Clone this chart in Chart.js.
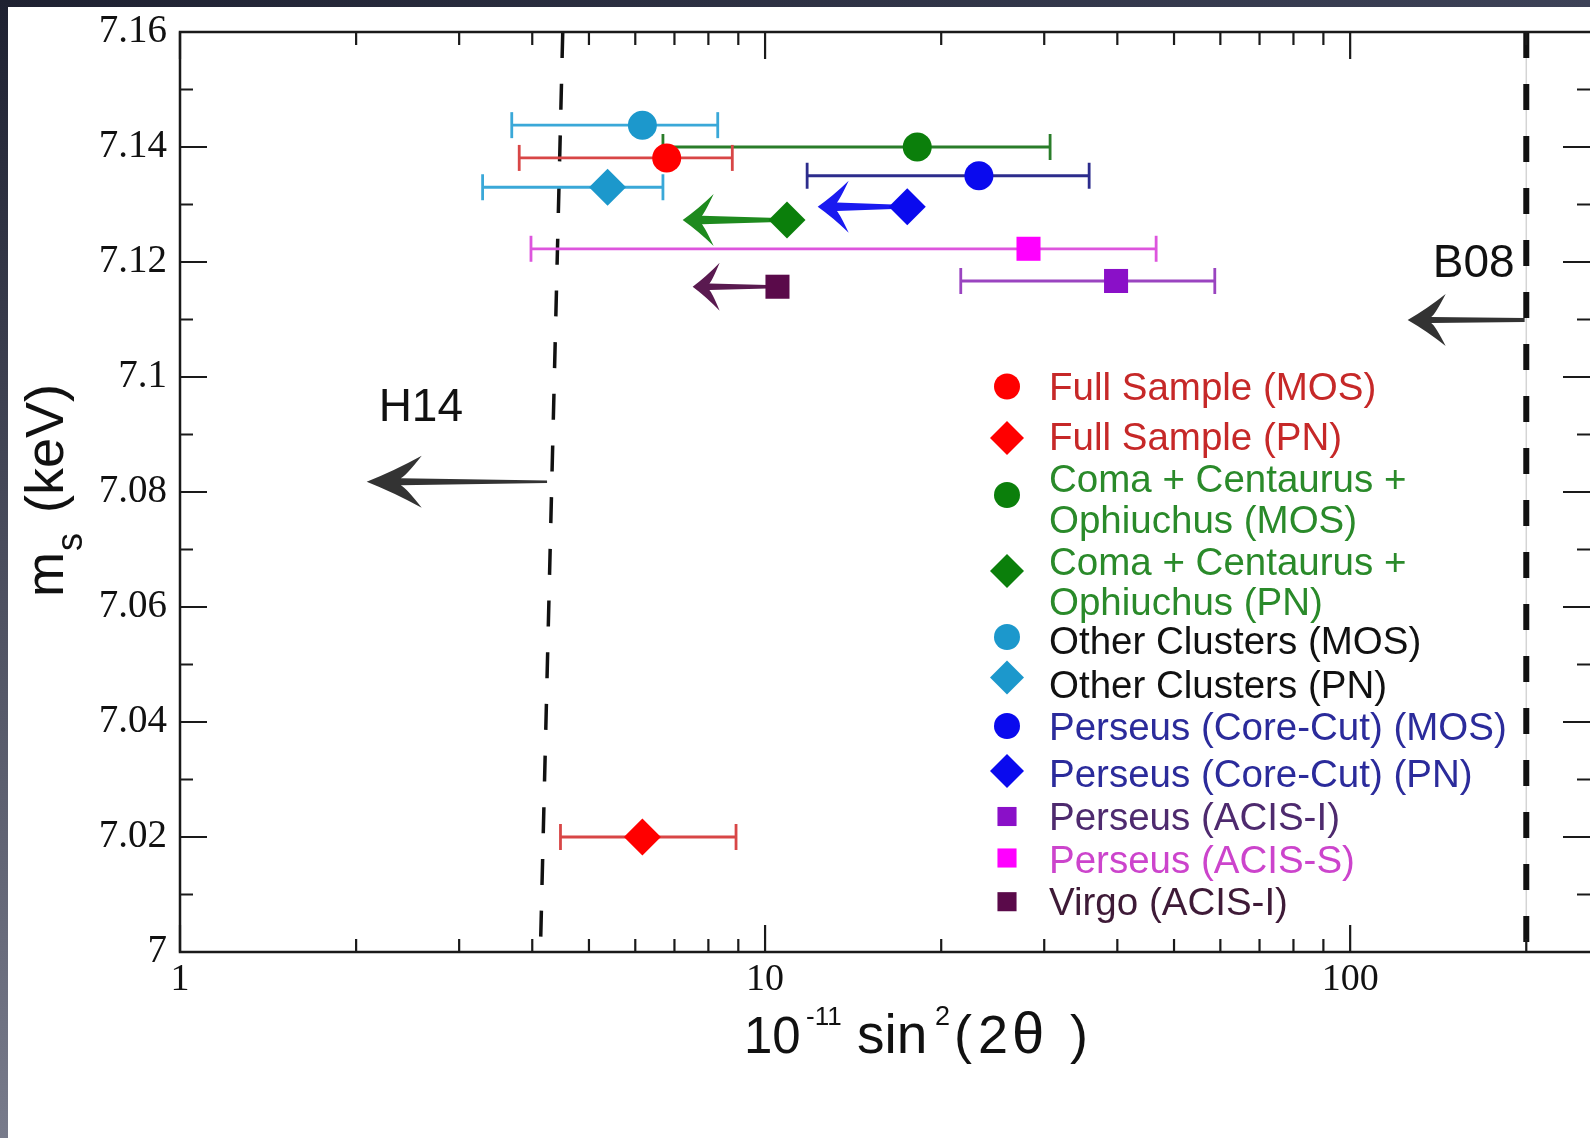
<!DOCTYPE html>
<html>
<head>
<meta charset="utf-8">
<script src="https://cdn.jsdelivr.net/npm/chart.js@4.4.0/dist/chart.umd.min.js"></script>
<style>
  html, body { margin: 0; padding: 0; background: #fff; overflow: hidden; }
  #area { width: 1590px; height: 1138px; position: relative; }
</style>
</head>
<body>
<div id="area"><canvas id="grafico"></canvas></div>
<script>
// Dados

var series = ["Full Sample (MOS)", "Full Sample (PN)", "Coma + Centaurus +\nOphiuchus (MOS)", "Coma + Centaurus +\nOphiuchus (PN)",
  "Other Clusters (MOS)", "Other Clusters (PN)", "Perseus (Core-Cut) (MOS)", "Perseus (Core-Cut) (PN)",
  "Perseus (ACIS-I)", "Perseus (ACIS-S)", "Virgo (ACIS-I)"];

var sen2 = [6.79, 6.17, 18.2, 10.9, 6.17, 5.38, 23.2, 17.5, 39.8, 28.2, 10.5];
var massa = [7.1381, 7.0200, 7.1400, 7.1273, 7.1438, 7.1330, 7.1350, 7.1296, 7.1167, 7.1223, 7.1157];
var sen2Min = [3.80, 4.47, 6.69, null, 3.69, 3.29, 11.8, null, 21.6, 3.98, null];
var sen2Max = [8.79, 8.92, 30.7, null, 8.30, 6.69, 35.8, null, 58.7, 46.6, null];
var sen2Limite = [null, null, null, 7.23, null, null, null, 12.3, null, null, 7.52];

var ticksX = [1, 10, 100];
var ticksY = [7, 7.02, 7.04, 7.06, 7.08, 7.1, 7.12, 7.14, 7.16];

// limites H14 e B08
var refNomes = ["H14", "B08"];
var refTopo = [4.51, 200];
var refBase = [4.13, 200];
var refSetaDe = [4.24, 198.7];
var refSetaAte = [2.085, 125.4];
var refSetaY = [7.0818, 7.1099];
var refTextoX = [2.58, 162.6];
var refTextoY = [7.0953, 7.1203];

// Estilos

var estilos = [
  {forma: 'circle',  cor: '#ff0000', barra: '#d84646', texto: '#c62828'},
  {forma: 'rectRot', cor: '#ff0000', barra: '#d84646', texto: '#c62828'},
  {forma: 'circle',  cor: '#0b7f0b', barra: '#2a7d2a', texto: '#2a8a2a'},
  {forma: 'rectRot', cor: '#0b7f0b', barra: '#2a7d2a', texto: '#2a8a2a'},
  {forma: 'circle',  cor: '#1c98cc', barra: '#3aa8d8', texto: '#111111'},
  {forma: 'rectRot', cor: '#1c98cc', barra: '#3aa8d8', texto: '#111111'},
  {forma: 'circle',  cor: '#0a0aee', barra: '#2c2c8c', texto: '#2b2b9b'},
  {forma: 'rectRot', cor: '#0a0aee', barra: '#2c2c8c', texto: '#2b2b9b'},
  {forma: 'rect',    cor: '#8a10c8', barra: '#9a44c0', texto: '#4e2a6e'},
  {forma: 'rect',    cor: '#ff00ff', barra: '#dd55dd', texto: '#cc44cc'},
  {forma: 'rect',    cor: '#5a0a4a', barra: '#5a0a4a', texto: '#3e1a37'}
];
var raio = {circle: 14.5, rectRot: 18.5, rect: 17};
var raioLegenda = {circle: 13, rectRot: 17, rect: 13.5};
var corSeta = ['#ff0000', '#ff0000', '#0b7f0b', '#1e8a1e', '#1c98cc', '#1c98cc', '#0a0aee', '#1a1af0', '#8a10c8', '#ff00ff', '#5a1a50'];

function marcasX() {
  var m = [];
  [1, 10, 100].forEach(function(d) {
    for (var k = 1; k <= 9; k++) { if (d * k <= 257) m.push(d * k); }
  });
  return m;
}

function marcasY() {
  var m = [];
  for (var i = 0; i <= 16; i++) m.push((700 + i) / 100);
  return m;
}

// datasets

var datasets = [];

sen2.forEach(function(v, i) {
  var e = estilos[i];
  datasets.push({
    label: series[i],
    data: [{x: v, y: massa[i]}],
    pointStyle: e.forma,
    pointRadius: raio[e.forma],
    pointBackgroundColor: e.cor,
    pointBorderColor: e.cor,
    pointBorderWidth: 0,
    order: 1
  });
  if (sen2Min[i] !== null) {
    datasets.push({
      label: series[i] + ' erro',
      data: [{x: sen2Min[i], y: massa[i]}, {x: sen2Max[i], y: massa[i]}],
      showLine: true,
      borderColor: e.barra,
      borderWidth: 2.8,
      pointStyle: 'line',
      pointRotation: 90,
      pointRadius: 13,
      pointBorderColor: e.barra,
      pointBorderWidth: 2.8,
      order: 2
    });
  }
});

// linha cinza fina do B08 e linhas tracejadas
datasets.push({
  label: 'B08 fina',
  data: [{x: refTopo[1], y: 7.16}, {x: refBase[1], y: 7}],
  showLine: true, borderColor: '#d4d4d4', borderWidth: 1.5, pointRadius: 0, order: 4
});
refNomes.forEach(function(n, i) {
  datasets.push({
    label: n,
    data: [{x: refTopo[i], y: 7.16}, {x: refBase[i], y: 7}],
    showLine: true,
    borderColor: '#111111',
    borderWidth: i === 0 ? 3.5 : 6,
    borderDash: i === 0 ? [26, 25.7] : [26, 26],
    pointRadius: 0,
    order: 3
  });
});

// Plugins

function desenharSeta(ctx, x0, x1, y, cor, L, H, w0, w1) {
  var d = x1 < x0 ? -1 : 1;
  var costas = x1 - d * L;
  var entalhe = x1 - d * L * 0.62;
  ctx.fillStyle = cor;
  ctx.beginPath();
  ctx.moveTo(x1, y);
  ctx.quadraticCurveTo(x1 - d * L * 0.5, y - H * 0.42, costas, y - H);
  ctx.quadraticCurveTo(x1 - d * L * 0.72, y - w1 * 0.9, entalhe, y - w1 / 2);
  ctx.lineTo(x0, y - w0 / 2);
  ctx.lineTo(x0, y + w0 / 2);
  ctx.lineTo(entalhe, y + w1 / 2);
  ctx.quadraticCurveTo(x1 - d * L * 0.72, y + w1 * 0.9, costas, y + H);
  ctx.quadraticCurveTo(x1 - d * L * 0.5, y + H * 0.42, x1, y);
  ctx.closePath();
  ctx.fill();
}

function desenharForma(ctx, forma, x, y, r, cor) {
  ctx.fillStyle = cor;
  ctx.beginPath();
  if (forma === 'circle') {
    ctx.arc(x, y, r, 0, Math.PI * 2);
  } else if (forma === 'rectRot') {
    ctx.moveTo(x - r, y); ctx.lineTo(x, y - r); ctx.lineTo(x + r, y); ctx.lineTo(x, y + r);
  } else {
    var s = r * Math.SQRT1_2;
    ctx.rect(x - s, y - s, 2 * s, 2 * s);
  }
  ctx.closePath();
  ctx.fill();
}

var fundoPlugin = {
  id: 'fundo',
  beforeDraw: function(chart) {
    var ctx = chart.ctx, W = chart.width, H = chart.height;
    ctx.save();
    ctx.fillStyle = '#ffffff';
    ctx.fillRect(0, 0, W, H);
    var gt = ctx.createLinearGradient(0, 0, W, 0);
    gt.addColorStop(0, '#1e2131');
    gt.addColorStop(1, '#3d4257');
    ctx.fillStyle = gt;
    ctx.fillRect(0, 0, W, 7);
    var ge = ctx.createLinearGradient(0, 0, 0, H);
    ge.addColorStop(0, '#1e2131');
    ge.addColorStop(1, '#787b8b');
    ctx.fillStyle = ge;
    ctx.fillRect(0, 0, 8, H);
    ctx.restore();
  }
};

var setasPlugin = {
  id: 'setas',
  beforeDatasetsDraw: function(chart) {
    var ctx = chart.ctx, sx = chart.scales.x, sy = chart.scales.y;
    ctx.save();
    sen2Limite.forEach(function(lim, i) {
      if (lim === null) return;
      var virgo = i === 10;
      desenharSeta(ctx, sx.getPixelForValue(sen2[i]), sx.getPixelForValue(lim), sy.getPixelForValue(massa[i]),
        corSeta[i], virgo ? 27 : 31, virgo ? 24 : 26, virgo ? 3 : 3.5, virgo ? 6.5 : 8.5);
    });
    refNomes.forEach(function(n, i) {
      desenharSeta(ctx, sx.getPixelForValue(refSetaDe[i]), sx.getPixelForValue(refSetaAte[i]), sy.getPixelForValue(refSetaY[i]),
        '#333333', i === 0 ? 55 : 38, 26, i === 0 ? 2.5 : 4, i === 0 ? 7 : 6);
    });
    ctx.restore();
  }
};

var molduraPlugin = {
  id: 'moldura',
  afterDraw: function(chart) {
    var ctx = chart.ctx, a = chart.chartArea, sx = chart.scales.x, sy = chart.scales.y;
    ctx.save();
    ctx.strokeStyle = '#1a1a1a';
    ctx.lineWidth = 2.5;
    ctx.beginPath();
    ctx.moveTo(a.right + 4, a.top);
    ctx.lineTo(a.left, a.top);
    ctx.lineTo(a.left, a.bottom);
    ctx.lineTo(a.right + 4, a.bottom);
    ctx.stroke();
    ctx.lineWidth = 2.2;
    ctx.beginPath();
    marcasX().forEach(function(v) {
      var px = sx.getPixelForValue(v);
      var t = ticksX.indexOf(v) >= 0 ? 27 : 13;
      ctx.moveTo(px, a.bottom); ctx.lineTo(px, a.bottom - t);
      ctx.moveTo(px, a.top); ctx.lineTo(px, a.top + t);
    });
    marcasY().forEach(function(v, i) {
      var py = sy.getPixelForValue(v);
      var t = i % 2 === 0 ? 27 : 13;
      ctx.moveTo(a.left, py); ctx.lineTo(a.left + t, py);
      ctx.moveTo(a.right, py); ctx.lineTo(a.right - t, py);
    });
    ctx.stroke();
    ctx.restore();
  }
};

var textosPlugin = {
  id: 'textos',
  afterDraw: function(chart) {
    var ctx = chart.ctx, a = chart.chartArea, sx = chart.scales.x, sy = chart.scales.y;
    var sans = '"Liberation Sans", Arial, sans-serif';
    ctx.save();
    ctx.textBaseline = 'alphabetic';

    // H14 / B08
    ctx.fillStyle = '#111111';
    ctx.font = '46px ' + sans;
    ctx.textAlign = 'center';
    refNomes.forEach(function(n, i) {
      ctx.fillText(n, sx.getPixelForValue(refTextoX[i]), sy.getPixelForValue(refTextoY[i]) + 16.5);
    });
    ctx.textAlign = 'left';

    // titulo do eixo x: 10^-11 sin^2(2θ)
    var yb = a.bottom + 101, x0 = 744;
    var partes = [
      ['10', 0, 0, 51], ['-11', 62, -28, 26], ['sin', 113, 0, 55], ['2', 191, -28, 27],
      ['(', 210, 0, 54], ['2', 234, 0, 54], ['\u03b8', 268, 0, 58], [')', 326, 0, 54]
    ];
    partes.forEach(function(p) {
      ctx.font = p[3] + 'px ' + sans;
      ctx.fillText(p[0], x0 + p[1], yb + p[2]);
    });

    // titulo do eixo y: m_s (keV)
    ctx.translate(63, (a.top + a.bottom) / 2 - 4);
    ctx.rotate(-Math.PI / 2);
    ctx.font = '54px ' + sans;
    ctx.fillText('m', -109, 0);
    ctx.font = '36px ' + sans;
    ctx.fillText('s', -63, 19);
    ctx.font = '54px ' + sans;
    ctx.fillText('(keV)', -25, 0);
    ctx.restore();
  }
};

var legendaPlugin = {
  id: 'legenda',
  afterDraw: function(chart) {
    var ctx = chart.ctx;
    var xm = 1007, xt = 1049;
    var linhasY = [386.5, 436, 478, 519, 561, 601.5, 640, 684.6, 726, 773, 816.5, 859, 901.7];
    var marcaY = [386.5, 438, 495, 571, 637, 677.5, 726, 771, 816.5, 858, 901.7];
    var linha = 0;
    ctx.save();
    ctx.font = '38.5px "Liberation Sans", Arial, sans-serif';
    ctx.textAlign = 'left';
    ctx.textBaseline = 'alphabetic';
    series.forEach(function(nome, i) {
      var partes = nome.split('\n');
      var e = estilos[i];
      desenharForma(ctx, e.forma, xm, marcaY[i], raioLegenda[e.forma], e.cor);
      ctx.fillStyle = e.texto;
      partes.forEach(function(p, k) {
        ctx.fillText(p, xt, linhasY[linha + k] + 13.5);
      });
      linha += partes.length;
    });
    ctx.restore();
  }
};

// Grafico

var ctx = document.getElementById("grafico");

var grafico = new Chart(ctx, {
  type: 'scatter',
  data: { datasets: datasets },
  plugins: [fundoPlugin, setasPlugin, molduraPlugin, textosPlugin, legendaPlugin],
  options: {
    responsive: true,
    maintainAspectRatio: false,
    devicePixelRatio: 1,
    animation: false,
    events: [],
    layout: { autoPadding: false, padding: { top: 32, right: 0, bottom: 0, left: 0 } },
    plugins: {
      legend: { display: false },
      tooltip: { enabled: false },
      title: { display: false }
    },
    scales: {
      x: {
        type: 'logarithmic',
        position: 'bottom',
        min: 1,
        max: 257,
        grid: { display: false, drawTicks: false },
        border: { display: false },
        afterBuildTicks: function(s) {
          s.ticks = marcasX().map(function(v) { return {value: v}; });
        },
        afterFit: function(s) {
          s.height = 186;
          s.paddingLeft = 0;
          s.paddingRight = 0;
        },
        ticks: {
          autoSkip: false,
          maxRotation: 0,
          padding: 5,
          color: '#111111',
          font: { family: '"Liberation Serif", "Times New Roman", serif', size: 38 },
          callback: function(v) { return ticksX.indexOf(v) >= 0 ? String(v) : ''; }
        }
      },
      y: {
        type: 'linear',
        min: 7,
        max: 7.16,
        grid: { display: false, drawTicks: false },
        border: { display: false },
        afterBuildTicks: function(s) {
          s.ticks = marcasY().map(function(v) { return {value: v}; });
        },
        afterFit: function(s) {
          s.width = 180;
          s.paddingTop = 0;
          s.paddingBottom = 0;
        },
        ticks: {
          autoSkip: false,
          padding: 13,
          color: '#111111',
          font: { family: '"Liberation Serif", "Times New Roman", serif', size: 39 },
          callback: function(v) {
            for (var k = 0; k < ticksY.length; k++) {
              if (Math.abs(ticksY[k] - v) < 1e-6) return String(ticksY[k]);
            }
            return '';
          }
        }
      }
    }
  }
});
</script>
</body>
</html>
